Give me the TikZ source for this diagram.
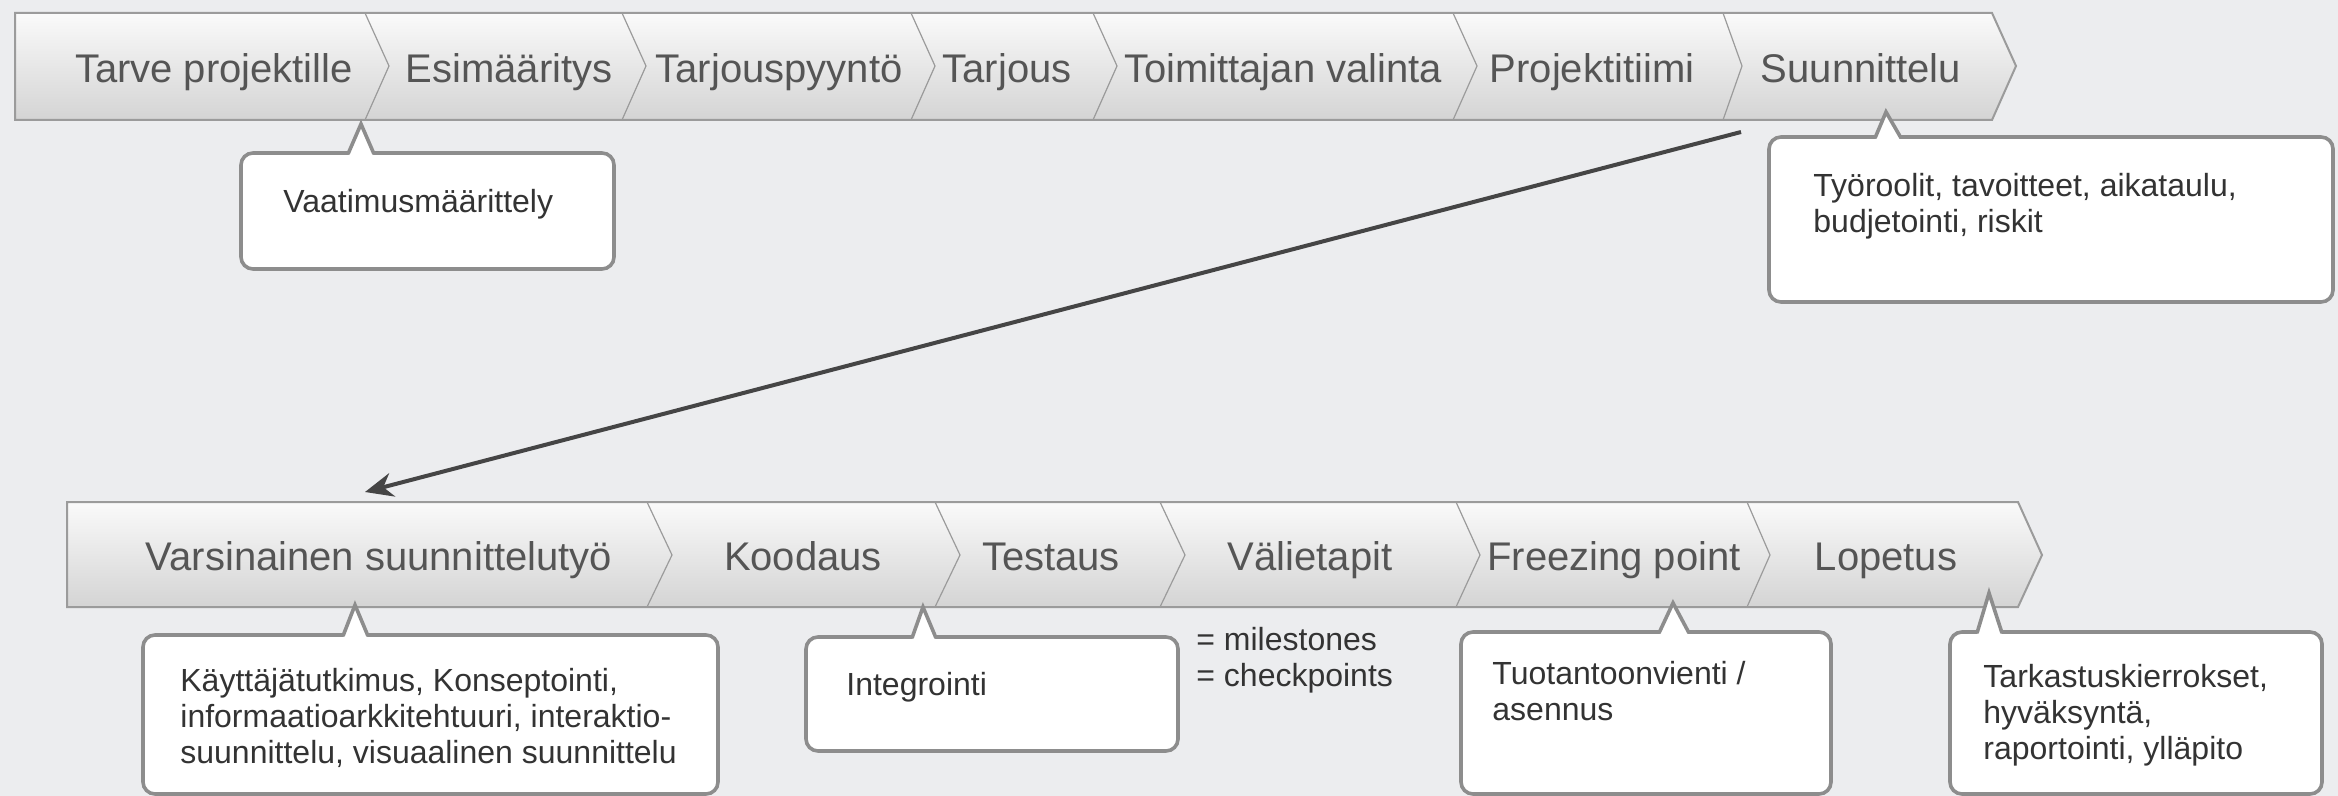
\documentclass[tikz,border=0pt]{standalone}
\usepackage{fontspec}
\setmainfont{Liberation Sans}
\usepackage{xcolor}
\usepackage{tikz}
\usetikzlibrary{positioning, arrows.meta, calc}
\definecolor{bgpanel}{HTML}{ECEDEF}
\definecolor{barline}{HTML}{9B9B9B}
\definecolor{bartop}{HTML}{FAFAFA}
\definecolor{barbottom}{HTML}{D4D4D4}
\definecolor{bartext}{HTML}{555555}
\definecolor{noteline}{HTML}{8D8D8D}
\definecolor{notetext}{HTML}{333333}
\definecolor{arrowgray}{HTML}{454545}

\tikzset{
  barshape/.style={top color=bartop, bottom color=barbottom, draw=barline, line width=1pt},
  divider/.style={draw=barline, line width=0.6pt},
  phase/.style={font=\fontsize{20}{24}\selectfont, text=bartext, anchor=base, inner sep=0pt},
  notebox/.style={draw=noteline, line width=1.8pt, fill=white, rounded corners=6pt},
  notetip/.style={draw=noteline, line width=1.8pt, line join=miter},
  note/.style={font=\fontsize{16}{18}\selectfont, text=notetext, align=left, anchor=base west, inner sep=0pt},
  flow/.style={draw=arrowgray, line width=2pt, -{Stealth[length=14pt, width=12pt]}}
}

\begin{document}
\begin{tikzpicture}[x=0.5pt, y=-0.5pt]
  \fill[bgpanel] (0,0) rectangle (2338,796);
  \useasboundingbox (0,0) rectangle (2338,796);

  % upper phase bar
  \draw[barshape] (15,13) -- (1992,13) -- (2016,66) -- (1992,120) -- (15,120) -- cycle;
  \draw[divider] (365,13) -- (389,66) -- (365,120)
                 (622,13) -- (646,66) -- (622,120)
                 (911,13) -- (935,66) -- (911,120)
                 (1093,13) -- (1117,66) -- (1093,120)
                 (1453,13) -- (1477,66) -- (1453,120)
                 (1723,13) -- (1742,66) -- (1723,120);
  \node[phase] (tarve) at (214,83) {Tarve projektille};
  \node[phase] (esim) at (509,83) {Esimääritys};
  \node[phase] (tarjpyynto) at (779,83) {Tarjouspyyntö};
  \node[phase] (tarjous) at (1007,83) {Tarjous};
  \node[phase] (toimittaja) at (1283,83) {Toimittajan valinta};
  \node[phase] (tiimi) at (1592,83) {Projektitiimi};
  \node[phase] (suunn) at (1861,83) {Suunnittelu};

  % lower phase bar
  \draw[barshape] (67,502) -- (2018,502) -- (2042,555) -- (2018,607) -- (67,607) -- cycle;
  \draw[divider] (647,502) -- (672,555) -- (647,607)
                 (935,502) -- (960,555) -- (935,607)
                 (1160,502) -- (1185,555) -- (1160,607)
                 (1456,502) -- (1480,555) -- (1456,607)
                 (1747,502) -- (1770,555) -- (1747,607);
  \node[phase] (varsinainen) at (379,570) {Varsinainen suunnittelutyö};
  \node[phase] (koodaus) at (803,570) {Koodaus};
  \node[phase] (testaus) at (1051,570) {Testaus};
  \node[phase] (valietapit) at (1310,570) {Välietapit};
  \node[phase] (freezing) at (1614,570) {Freezing point};
  \node[phase] (lopetus) at (1886,570) {Lopetus};

  % callouts (multi-line notes sit on their last baseline)
  \draw[notebox] (241,153) rectangle (614,269);
  \fill[white] (348,157) -- (361,124) -- (374,157) -- cycle;
  \draw[notetip] (348,154) -- (361,124) -- (374,154);
  \node[note] (vaatimus) at (283,213) {Vaatimusmäärittely};

  \draw[notebox] (1769,137) rectangle (2333,302);
  \fill[white] (1875,141) -- (1886,112) -- (1901,141) -- cycle;
  \draw[notetip] (1875,138) -- (1886,112) -- (1901,138);
  \node[note] (tyoroolit) at (1813,233) {Työroolit, tavoitteet, aikataulu,\\budjetointi, riskit};

  \draw[notebox] (143,635) rectangle (718,794);
  \fill[white] (343,639) -- (355,605) -- (368,639) -- cycle;
  \draw[notetip] (343,636) -- (355,605) -- (368,636);
  \node[note] (kayttaja) at (180,763) {Käyttäjätutkimus, Konseptointi,\\informaatioarkkitehtuuri, interaktio-\\suunnittelu, visuaalinen suunnittelu};

  \draw[notebox] (806,637) rectangle (1178,751);
  \fill[white] (912,641) -- (923,607) -- (936,641) -- cycle;
  \draw[notetip] (912,638) -- (923,607) -- (936,638);
  \node[note] (integrointi) at (846,695) {Integrointi};

  \node[note] (milestones) at (1196,686) {= milestones\\= checkpoints};

  \draw[notebox] (1461,632) rectangle (1831,794);
  \fill[white] (1659,636) -- (1673,603) -- (1689,636) -- cycle;
  \draw[notetip] (1659,633) -- (1673,603) -- (1689,633);
  \node[note] (tuotanto) at (1492,720) {Tuotantoonvienti /\\asennus};

  \draw[notebox] (1950,632) rectangle (2322,794);
  \fill[white] (1977,636) -- (1989,593) -- (2002,636) -- cycle;
  \draw[notetip] (1977,633) -- (1989,593) -- (2002,633);
  \node[note] (tarkastus) at (1983,759) {Tarkastuskierrokset,\\hyväksyntä,\\raportointi, ylläpito};

  \coordinate (planstart) at (1741,132);
  \coordinate (planend) at (365,492);
  \draw[flow] (planstart) -- (planend);
\end{tikzpicture}
\end{document}
